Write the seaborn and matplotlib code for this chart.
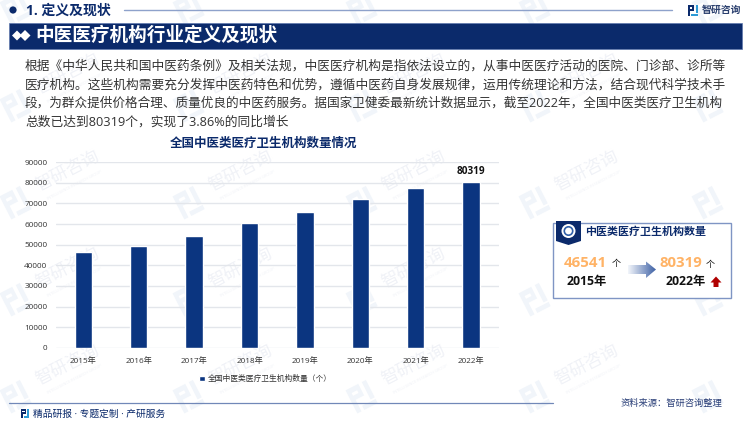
"""全国中医类医疗卫生机构数量情况 슬라이드 재현."""

from __future__ import annotations

import matplotlib.pyplot as plt
import numpy as np
import pandas as pd
import seaborn as sns
from matplotlib.patches import Circle, Polygon, Rectangle
from matplotlib.transforms import Affine2D

FONT = ["Open Sans", "Noto Sans CJK SC", "DejaVu Sans"]

YEARS = ["2015年", "2016年", "2017年", "2018年", "2019年", "2020年", "2021年", "2022年"]
COUNTS = [46541, 49500, 54300, 60700, 65800, 72300, 77300, 80319]
Y_TICKS = [0, 10000, 20000, 30000, 40000, 50000, 60000, 70000, 80000, 90000]
SERIES_NAME = "全国中医类医疗卫生机构数量（个）"
BAR_LABELS = ["", "", "", "", "", "", "", "80319"]

BODY_LINES = [
    "根据《中华人民共和国中医药条例》及相关法规，中医医疗机构是指依法设立的，从事中医医疗活动的医院、门诊部、诊所等",
    "医疗机构。这些机构需要充分发挥中医药特色和优势，遵循中医药自身发展规律，运用传统理论和方法，结合现代科学技术手",
    "段，为群众提供价格合理、质量优良的中医药服务。据国家卫健委最新统计数据显示，截至2022年，全国中医类医疗卫生机构",
    "总数已达到80319个，实现了3.86%的同比增长",
]

NAVY = "#0B2A6B"
BAR = "#0B3580"
ORANGE = "#FFB366"
WM_TEXT = "#F0F2F7"
WM_LOGO = "#F1F5FA"

plt.rcParams["font.family"] = FONT
sns.set_style("white")
plt.rcParams["font.family"] = FONT
plt.rcParams["axes.unicode_minus"] = False


def pixel_axes(fig, zorder):
    ax = fig.add_axes([0, 0, 1, 1], zorder=zorder)
    ax.set_xlim(0, 750)
    ax.set_ylim(421, 0)
    ax.axis("off")
    ax.patch.set_alpha(0)
    return ax


def draw_logo(ax, x, y, s, left, right, rot=0.0):
    # 左右两块的简化 logo
    tr = Affine2D().rotate_deg_around(x + s / 2, y + s / 2, rot) + ax.transData
    pieces = [
        ([(0, 0), (0.55, 0), (0.55, 0.5), (0.18, 0.5), (0.18, 1), (0, 1)], left),
        ([(0.16, 0.2), (0.4, 0.2), (0.4, 0.32), (0.16, 0.32)], "white"),
        ([(0.7, 0), (0.88, 0), (0.88, 0.75), (0.7, 0.75)], right),
        ([(0.3, 0.82), (0.88, 0.82), (0.88, 1), (0.3, 1)], right),
    ]
    for pts, col in pieces:
        pts = [(x + px * s, y + py * s) for px, py in pts]
        ax.add_patch(Polygon(pts, closed=True, fc=col, ec="none", transform=tr))


def draw_watermarks(ax):
    for cy in [-22, 75, 172, 269, 366]:
        for cx in [68, 241, 414, 587, 760]:
            draw_logo(ax, cx - 51 - 13, cy + 30 - 13, 26, WM_LOGO, WM_LOGO, rot=-27)
            # 文字放不下的一行一列只留 logo
            if cy < 0 or cx > 700:
                continue
            ax.text(cx, cy, "智研咨询", fontsize=12.5, color=WM_TEXT, rotation=27,
                    ha="center", va="center")
            ax.text(cx + 7, cy + 13, "INTELLIGENCE RESEARCH GROUP", fontsize=2.8, color=WM_TEXT,
                    rotation=27, ha="center", va="center")


def draw_header(ax):
    ax.add_patch(Circle((13, 10), 3.6, fc=NAVY, ec="none"))
    ax.text(26, 10.5, "1. 定义及现状", fontsize=10, fontweight="bold", color=NAVY, va="center")
    ax.plot([124, 672], [10, 10], color="#8EA2CB", lw=1)
    draw_logo(ax, 688, 5, 11, NAVY, "#2E9BD6")
    ax.text(702, 10, "智研咨询", fontsize=7.1, fontweight="bold", color="#2A3F6E", va="center")

    ax.add_patch(Rectangle((9, 22.5), 733, 26, fc=NAVY, ec="#5F78AE", lw=0.5))
    for cx, half in [(17, 5), (25, 5.5)]:
        ax.add_patch(Polygon([(cx - half, 35.5), (cx, 35.5 - half), (cx + half, 35.5), (cx, 35.5 + half)],
                             closed=True, fc="white", ec="none"))
    ax.text(35, 35.5, "中医医疗机构行业定义及现状", fontsize=13.4, fontweight="bold",
            color="white", va="center")

    for line, y, size in zip(BODY_LINES, [66, 85, 103.3, 121.7], [9.15, 9.15, 9.08, 9.15]):
        ax.text(25, y, line, fontsize=size, color="#333333", va="center")


def draw_panel(ax):
    ax.add_patch(Rectangle((552.7, 222.7), 178, 75, fc="white", ec="#7F95C4", lw=1))
    ax.add_patch(Polygon([(556, 221), (581, 221), (581, 241), (568.5, 245), (556, 241)],
                         closed=True, fc=NAVY, ec="none"))
    ax.add_patch(Circle((568.5, 231), 7, fc="white", ec="none"))
    ax.add_patch(Circle((568.5, 231), 4.2, fc="none", ec="#2F5FA8", lw=1.2))
    ax.text(585, 232, "中医类医疗卫生机构数量", fontsize=7.9, fontweight="bold", color=NAVY, va="center")

    ax.text(564, 263, "46541", fontsize=10.8, fontweight="bold", color=ORANGE, va="center")
    ax.text(616.5, 263.5, "个", fontsize=6.5, color="#111111", ha="center", va="center")
    ax.text(567, 281, "2015年", fontsize=8.8, fontweight="bold", color="#111111", va="center")
    ax.text(659, 263, "80319", fontsize=10.8, fontweight="bold", color=ORANGE, va="center")
    ax.text(710, 264, "个", fontsize=6.5, color="#111111", ha="center", va="center")
    ax.text(666, 281, "2022年", fontsize=8.8, fontweight="bold", color="#111111", va="center")

    # 红色向上箭头
    ax.add_patch(Polygon([(716, 276.5), (721.5, 282.5), (718.5, 282.5), (718.5, 287),
                          (713.5, 287), (713.5, 282.5), (710.5, 282.5)],
                         closed=True, fc="#B00000", ec="none"))

    # 渐变箭头
    arrow = Polygon([(628, 265), (646, 265), (646, 261.5), (656, 269.5), (646, 278),
                     (646, 274), (628, 274)], closed=True, fc="none", ec="none",
                    transform=ax.transData)
    ax.add_patch(arrow)
    grad = np.linspace(0, 1, 64).reshape(1, -1)
    cmap = sns.blend_palette(["#F2F5FA", "#3F62A6"], as_cmap=True)
    img = ax.imshow(grad, extent=(628, 656, 279, 261), cmap=cmap, aspect="auto", zorder=3)
    img.set_clip_path(arrow)
    ax.set_xlim(0, 750)
    ax.set_ylim(421, 0)


def draw_footer(ax):
    ax.plot([9, 553], [403, 403], color="#7188B8", lw=0.9)
    draw_logo(ax, 21, 409, 9, NAVY, "#2E9BD6")
    ax.text(33, 414, "精品研报 · 专题定制 · 产研服务", fontsize=7, color=NAVY, va="center")
    ax.text(621, 403, "资料来源：智研咨询整理", fontsize=6.7, color="#2A3F78", va="center")


def draw_chart(fig):
    df = pd.DataFrame({"year": YEARS, "count": COUNTS})
    ax = fig.add_axes([55.7 / 750, 1 - 347.7 / 421, 443 / 750, 185.4 / 421], zorder=1)
    ax.patch.set_alpha(0)
    sns.barplot(data=df, x="year", y="count", color=BAR, saturation=1, width=0.315,
                label=SERIES_NAME, legend=False, ax=ax, zorder=3)
    ax.set_xlim(-0.5, 7.5)
    ax.set_ylim(0, 90000)
    ax.set_yticks(Y_TICKS)
    ax.set_xlabel("")
    ax.set_ylabel("")
    ax.grid(axis="y", color="#E3E6EB", lw=1, zorder=0)
    ax.set_axisbelow(True)
    sns.despine(ax=ax, left=True, bottom=True, top=True, right=True)
    ax.tick_params(axis="both", length=0, labelsize=5.9, labelcolor="#333333")
    ax.tick_params(axis="x", pad=7)
    ax.tick_params(axis="y", pad=6)
    ax.bar_label(ax.containers[0], labels=BAR_LABELS, fontsize=7.2, fontweight="bold",
                 color="#111111", padding=4)
    ax.set_title("全国中医类医疗卫生机构数量情况", fontsize=9, fontweight="bold", color=NAVY,
                 x=(263.5 - 55.7) / 443, y=1.0, pad=11)
    ax.legend(loc="center", bbox_to_anchor=(265.5 / 750, 1 - 379 / 421), bbox_transform=fig.transFigure,
              frameon=False, fontsize=5.6, labelcolor="#333333", handlelength=0.7, handleheight=0.7,
              handletextpad=0.4, borderpad=0)


def main() -> None:
    fig = plt.figure(figsize=(7.5, 4.21), dpi=100, facecolor="white")
    bg = pixel_axes(fig, 0)
    draw_watermarks(bg)
    draw_chart(fig)
    top = pixel_axes(fig, 2)
    draw_header(top)
    draw_panel(top)
    draw_footer(top)
    fig.savefig("out.png", dpi=100)


if __name__ == "__main__":
    main()
